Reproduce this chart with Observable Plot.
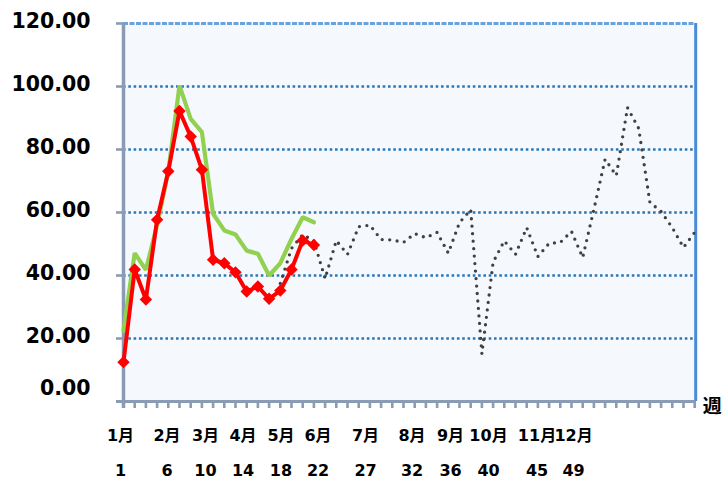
<!DOCTYPE html>
<html>
<head>
<meta charset="utf-8">
<script src="https://cdn.jsdelivr.net/npm/d3@7"></script>
<script src="https://cdn.jsdelivr.net/npm/@observablehq/plot@0.6"></script>
<style>
  body { margin: 0; background: #ffffff; }
  #chart svg { display: block; }
</style>
</head>
<body>
<div id="chart"></div>
<script>
// ---- data ----
const weeks = d3.range(1, 53);

// red series with diamond markers (weeks 1-18)
const currentYear = [12.5, 41.9, 32.4, 57.7, 73.1, 92.2, 84.1, 73.6, 45.0, 43.9,
                     41.0, 34.9, 36.5, 32.6, 35.2, 41.9, 51.1, 49.7];

// green series (weeks 1-18)
const previousYear = [22.5, 47.1, 41.8, 56.0, 73.0, 100.3, 89.7, 85.5, 59.6, 54.3,
                      53.0, 47.9, 46.9, 40.0, 43.9, 51.6, 58.5, 56.9];

// dark dotted series (weeks 15-52)
const dottedStartWeek = 15;
const dottedSeries = [37.5, 48.6, 53.0, 51.0, 39.0, 51.1, 46.7, 55.5, 56.0, 51.4,
                      51.3, 50.5, 53.3, 52.0, 53.7, 47.1, 56.8, 60.9, 15.1, 44.2,
                      51.0, 46.7, 55.2, 46.0, 50.2, 50.5, 54.0, 45.7, 61.0, 76.9,
                      71.7, 93.3, 86.7, 63.2, 60.3, 55.2, 48.9, 53.7];

const yTicks = [0, 20, 40, 60, 80, 100, 120];

const monthLabels = ["1月", "2月", "3月", "4月", "5月", "6月", "7月", "8月", "9月", "10月", "11月", "12月"];
const monthFirstWeeks = [1, 6, 10, 14, 18, 22, 27, 32, 36, 40, 45, 49];
// where the label row is printed under the axis (in week units)
const labelAt = [0.73, 4.88, 8.32, 11.67, 15.06, 18.37, 22.61, 26.76, 30.2, 33.59, 37.92, 41.18];
const axisUnitLabel = "週";

// ---- tables ----
const redData = currentYear.map((v, i) => ({week: i + 1, value: v}));
const greenData = previousYear.map((v, i) => ({week: i + 1, value: v}));
const dottedData = dottedSeries.map((v, i) => ({week: dottedStartWeek + i, value: v}));
const labelRows = monthLabels.map((m, i) => ({pos: labelAt[i], month: m, week: String(monthFirstWeeks[i])}));

const axisColor = "#8a9bb5";
const font = "'DejaVu Sans', 'Noto Sans CJK JP', sans-serif";

const chart = Plot.plot({
  width: 724,
  height: 480,
  marginLeft: 123,
  marginRight: 29.8,
  marginTop: 23,
  marginBottom: 79,
  x: {domain: [1, 52]},
  y: {domain: [0, 120]},
  style: {fontFamily: font, background: "#ffffff", overflow: "visible"},
  marks: [
    Plot.frame({fill: "#f5f9fe", stroke: null}),
    // dotted horizontal gridlines
    Plot.ruleY(yTicks.slice(1, -1), {stroke: "#2e75b6", strokeWidth: 2.6, strokeDasharray: "2.6 2.7"}),
    // top and right border
    Plot.ruleY([120], {stroke: "#6aa2dc", strokeWidth: 3, strokeDasharray: "5 1.5"}),
    Plot.ruleX([52], {stroke: "#4a8ad6", strokeWidth: 3, dx: 1}),
    // axis ticks
    Plot.axisY(yTicks, {tickSize: 7, stroke: axisColor, strokeWidth: 2.6, fill: "none", label: null}),
    Plot.axisX(weeks, {tickSize: 7, stroke: axisColor, strokeWidth: 2.6, fill: "none", label: null}),
    // axis lines
    Plot.ruleX([1], {stroke: axisColor, strokeWidth: 3.5, insetBottom: -7}),
    Plot.ruleY([0], {stroke: axisColor, strokeWidth: 3, insetLeft: -7}),
    // y tick labels
    Plot.text(yTicks.filter(d => d > 0), {y: d => d, text: d => d.toFixed(2), frameAnchor: "left", textAnchor: "end",
      dx: -33, dy: -2, fontSize: 20.5, fontWeight: "bold", fill: "#000"}),
    Plot.text(yTicks.filter(d => d === 0), {y: d => d, text: d => d.toFixed(2), frameAnchor: "left", textAnchor: "end",
      dx: -33, dy: -13, fontSize: 20.5, fontWeight: "bold", fill: "#000"}),
    // series
    Plot.line(dottedData, {x: "week", y: "value", stroke: "#404040", strokeWidth: 3.3,
      strokeDasharray: "0 7.5", strokeLinecap: "round"}),
    Plot.line(greenData, {x: "week", y: "value", stroke: "#92d050", strokeWidth: 4.2, strokeLinejoin: "miter"}),
    Plot.line(redData, {x: "week", y: "value", stroke: "#ff0000", strokeWidth: 4, strokeLinejoin: "miter"}),
    Plot.dot(redData, {x: "week", y: "value", symbol: "diamond2", r: 5.6, fill: "#ff0000", stroke: null}),
    // month / week label rows
    Plot.text(labelRows, {x: "pos", text: "month", frameAnchor: "bottom", dy: 34, lineAnchor: "middle",
      fontSize: 16, fontWeight: "bold", fill: "#000"}),
    Plot.text(labelRows, {x: "pos", text: "week", frameAnchor: "bottom", dy: 69, lineAnchor: "middle",
      fontSize: 16, fontWeight: "bold", fill: "#000"}),
    Plot.text([axisUnitLabel], {text: d => d, frameAnchor: "bottom-right", dx: 8, dy: 5, textAnchor: "start",
      lineAnchor: "middle", fontSize: 19, fontWeight: "bold", fill: "#000"})
  ]
});

document.getElementById("chart").appendChild(chart);
</script>
</body>
</html>
